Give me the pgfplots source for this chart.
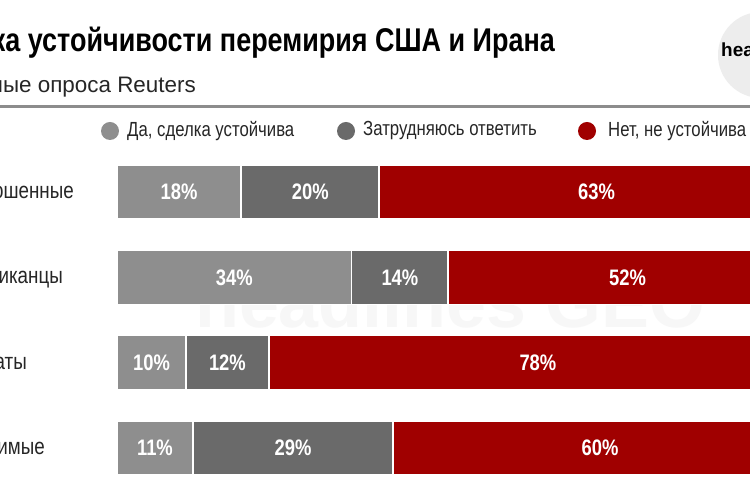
\documentclass[border=0pt]{standalone}
\usepackage{fontspec}
\setmainfont{Liberation Sans}
\newfontfamily\cond{Liberation Sans}[FakeStretch=0.82]
\usepackage{pgfplots}
\usepackage{pgfplotstable}
\pgfplotsset{compat=1.18}
\definecolor{lg}{HTML}{8E8E8E}
\definecolor{dg}{HTML}{6A6A6A}
\definecolor{rd}{HTML}{A00000}
\pgfplotstableread{
row yes dk no
0 18 20 63
1 34 14 52
2 10 12 78
3 11 29 60
}\data
\pgfplotsset{
  base/.style={
    at={(117bp,9.3bp)}, anchor=south west,
    scale only axis, width=690bp, height=341.4bp,
    xmin=0, xmax=100, ymin=-0.5, ymax=3.5, y dir=reverse,
    hide axis, clip=false,
  },
  lbl/.style={draw=none, mark=none,
    nodes near coords={\pgfplotspointmeta\%},
    point meta=explicit symbolic,
    every node near coord/.append style={anchor=center, text=white,
      font=\cond\bfseries\fontsize{22.5}{24}\selectfont},
  },
}
\begin{document}
\begin{tikzpicture}[x=1bp,y=1bp]
\useasboundingbox (0,0) rectangle (750,500);
\clip (0,0) rectangle (750,500);
\fill[white] (0,0) rectangle (750,500);
% watermark
\node[anchor=base west, text=black!3, inner sep=0, font=\bfseries\fontsize{72}{80}\selectfont] at (195,172) {headlines GEO};
% logo
\fill[black!7] (761,445) circle (43);
\node[anchor=base west, inner sep=0, font=\bfseries\fontsize{19}{21}\selectfont] at (721,443) {headlines};
% title & subtitle
\node[anchor=base east, inner sep=0, font=\cond\bfseries\fontsize{33}{38}\selectfont] at (555,448) {Оценка устойчивости перемирия США и Ирана};
\node[anchor=base east, inner sep=0, text=black!85, font=\fontsize{22.5}{26}\selectfont] at (196,407) {Данные опроса Reuters};
\draw[line width=3, black!45] (0,393) -- (750,393);
% legend
\fill[lg] (110,369) circle (9);
\node[anchor=west, inner sep=0, text=black!85, font=\cond\fontsize{20.5}{22}\selectfont] at (127,369) {Да, сделка устойчива};
\fill[dg] (346,369) circle (9);
\node[anchor=west, inner sep=0, text=black!85, font=\cond\fontsize{20.5}{22}\selectfont] at (363,369) {Затрудняюсь ответить};
\fill[rd] (587,369) circle (9);
\node[anchor=west, inner sep=0, text=black!85, font=\cond\fontsize{20.5}{22}\selectfont] at (608,369) {Нет, не устойчива};
% row labels
\begin{scope}[every node/.style={anchor=base east, inner sep=0, text=black!85, font=\cond\fontsize{23}{26}\selectfont}]
\node at (74,301) {Все опрошенные};
\node at (63,216) {Республиканцы};
\node at (27,130) {Демократы};
\node at (45,45) {Независимые};
\end{scope}
\begin{axis}[base, xbar stacked, bar width=54bp]
\addplot[fill=lg, draw=white, line width=1.5bp] table[x=yes, y=row]{\data};
\addplot[fill=dg, draw=white, line width=1.5bp] table[x=dk, y=row]{\data};
\addplot[fill=rd, draw=white, line width=1.5bp] table[x=no, y=row]{\data};
\end{axis}
\begin{axis}[base]
\addplot[lbl] table[x expr=\thisrow{yes}/2, y=row, meta=yes]{\data};
\addplot[lbl] table[x expr=\thisrow{yes}+\thisrow{dk}/2, y=row, meta=dk]{\data};
\addplot[lbl] table[x expr=\thisrow{yes}+\thisrow{dk}+\thisrow{no}/2, y=row, meta=no]{\data};
\end{axis}
\end{tikzpicture}
\end{document}
